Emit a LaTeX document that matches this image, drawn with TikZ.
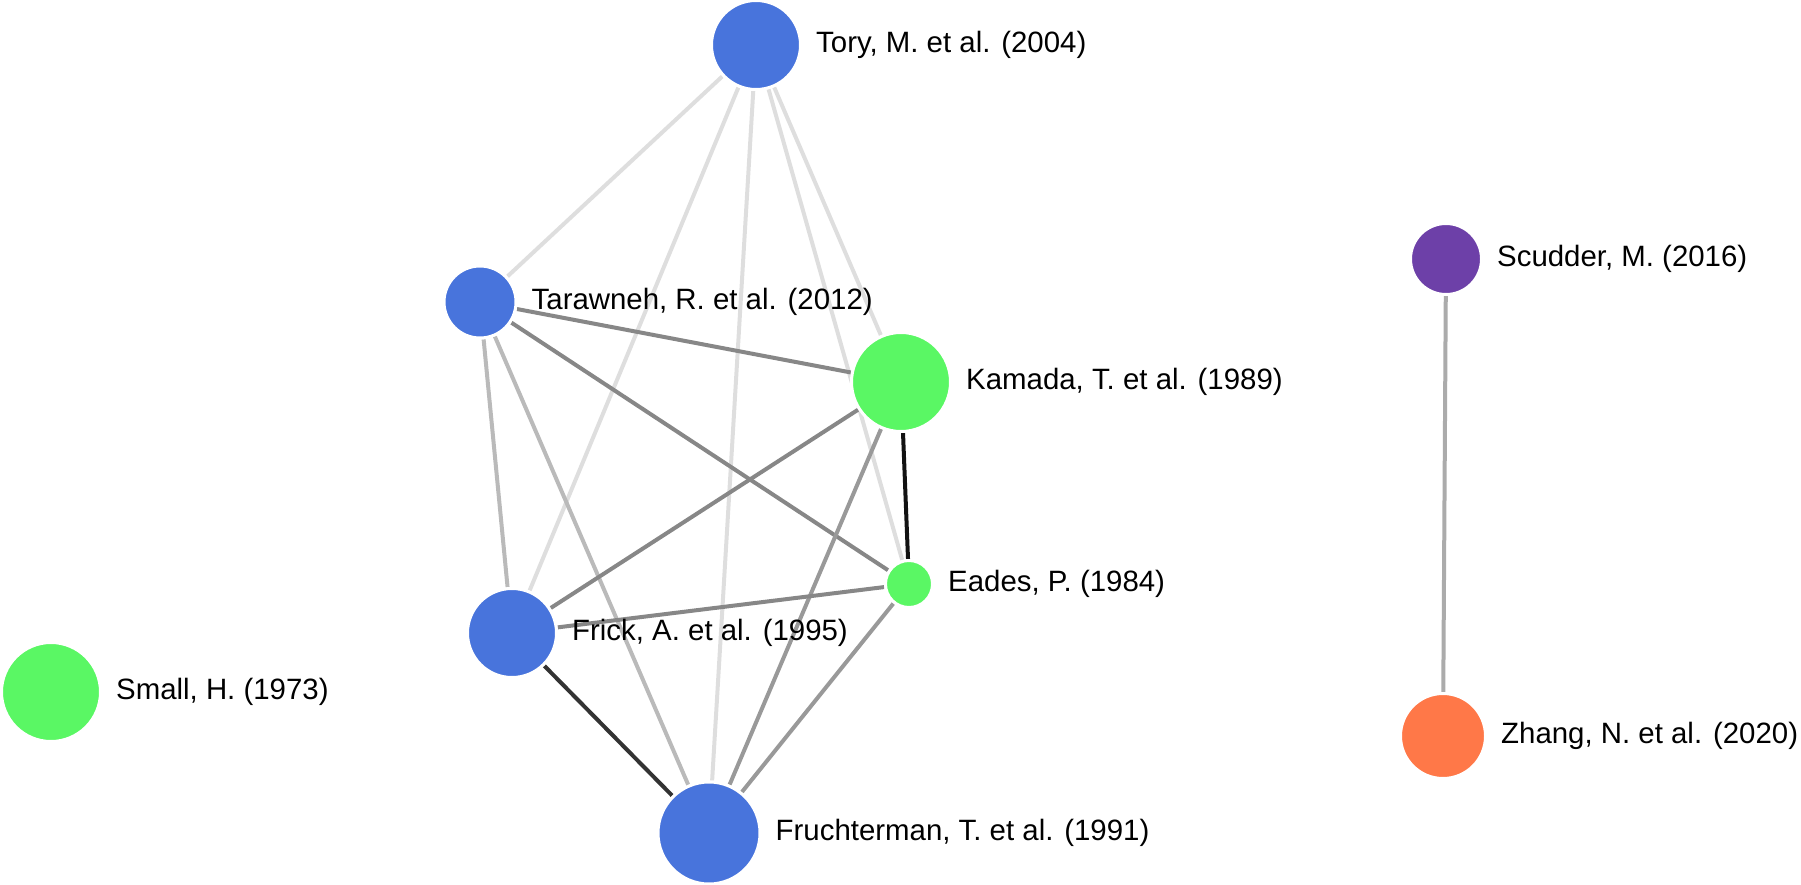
\documentclass[tikz,border=0pt]{standalone}
\usepackage{fontspec}
\setmainfont{Liberation Sans}
\usetikzlibrary{backgrounds}

\definecolor{paperblue}{HTML}{4874DC}
\definecolor{papergreen}{HTML}{5AF764}
\definecolor{paperpurple}{HTML}{6D40A8}
\definecolor{paperorange}{HTML}{FF7848}

\begin{document}
\begin{tikzpicture}[x=1pt,y=-1pt,
	paper/.style={circle,draw=white,line width=3pt,inner sep=0pt,minimum size=#1},
	cite/.style={line width=4pt},
	label distance=14pt,
	every label/.style={inner sep=0pt,font=\fontsize{29.4}{35}\selectfont}]

\useasboundingbox (0,0) rectangle (1801,885);

\node[paper=89pt,fill=paperblue,label={right:{Tory, M. et al. (2004)}}] (tory) at (756,45) {};
\node[paper=72pt,fill=paperblue,label={right:{Tarawneh, R. et al. (2012)}}] (tarawneh) at (480,302) {};
\node[paper=99pt,fill=papergreen,label={right:{Kamada, T. et al. (1989)}}] (kamada) at (901,382) {};
\node[paper=47pt,fill=papergreen,label={right:{Eades, P. (1984)}}] (eades) at (909,584) {};
\node[paper=89pt,fill=paperblue,label={right:{Frick, A. et al. (1995)}}] (frick) at (512,633) {};
\node[paper=99pt,fill=papergreen,label={right:{Small, H. (1973)}}] (small) at (51,692) {};
\node[paper=102pt,fill=paperblue,label={right:{Fruchterman, T. et al. (1991)}}] (fruchterman) at (709,833) {};
\node[paper=71pt,fill=paperpurple,label={right:{Scudder, M. (2016)}}] (scudder) at (1446,259) {};
\node[paper=85pt,fill=paperorange,label={right:{Zhang, N. et al. (2020)}}] (zhang) at (1443,736) {};

% link strength as grey level
\begin{scope}[on background layer]
\foreach \a/\b/\k in {tory/tarawneh/13, tory/frick/13, tory/fruchterman/13,
	tory/eades/13, tory/kamada/13,
	tarawneh/kamada/47, tarawneh/eades/47, tarawneh/frick/27, tarawneh/fruchterman/27,
	kamada/frick/47, kamada/fruchterman/40, kamada/eades/93,
	eades/frick/47, eades/fruchterman/40,
	frick/fruchterman/80, scudder/zhang/33} {
	\draw[cite,draw=black!\k] (\a) -- (\b);
}
\end{scope}

\end{tikzpicture}
\end{document}
